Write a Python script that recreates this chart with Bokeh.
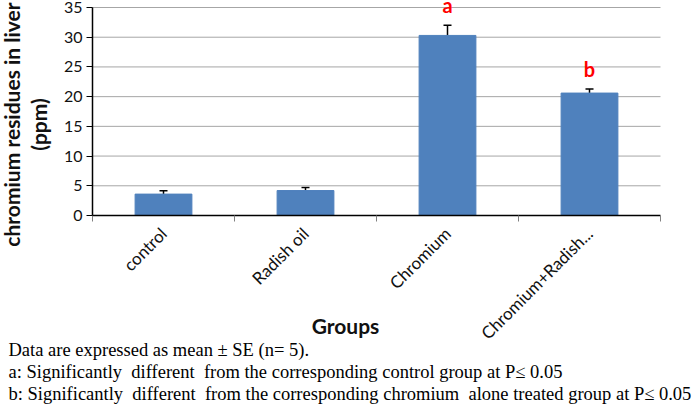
from math import pi
from bokeh.plotting import figure
from bokeh.models import (Range1d, FixedTicker, Whisker, TeeHead, Label, LabelSet,
                          ColumnDataSource)
from bokeh.core.properties import value
from bokeh.embed import file_html
from bokeh.resources import INLINE

# ---- data ----
groups = ["control", "Radish oil", "Chromium", "Chromium+Radish..."]
means = [3.6, 4.2, 30.3, 20.6]
se = [0.55, 0.5, 1.7, 0.7]
letters = ["", "", "a", "b"]
y_ticks = [0, 5, 10, 15, 20, 25, 30, 35]
y_title = ["chromium residues in liver", "(ppm)"]
x_title = "Groups"
notes = [
    "Data are expressed as mean \u00b1 SE (n= 5).",
    "a: Significantly\u00a0 different\u00a0 from the corresponding control group at P\u2264 0.05",
    "b: Significantly\u00a0 different\u00a0 from the corresponding chromium\u00a0 alone treated group at P\u2264 0.05",
]

W, H = 692, 420
n = len(groups)
xs = [i + 0.5 for i in range(n)]
src = ColumnDataSource(dict(
    x=xs, top=means, upper=[m + s for m, s in zip(means, se)],
    letter=letters))
grid_src = ColumnDataSource(dict(y=y_ticks[1:], x0=[0] * (len(y_ticks) - 1),
                                 x1=[n] * (len(y_ticks) - 1)))

# frame covers the whole canvas; axes are pinned at x=0 / y=0
px_per_cat = 142.0
px_per_unit = 208.0 / 35
ax_left, ax_zero = 92, 215
p = figure(width=W, height=H, output_backend="svg", toolbar_location=None,
           x_range=Range1d(-ax_left / px_per_cat, (W - ax_left) / px_per_cat),
           y_range=Range1d(-(H - ax_zero) / px_per_unit, ax_zero / px_per_unit),
           min_border=0)
p.outline_line_color = None
p.background_fill_color = "white"
p.border_fill_color = "white"
p.xgrid.visible = False
p.ygrid.visible = False

# gridlines
p.segment(x0="x0", x1="x1", y0="y", y1="y", source=grid_src,
          line_color="#A6A6A6", line_width=1)

# bars
p.vbar(x="x", top="top", width=0.4, source=src, fill_color="#4F81BD",
       line_color="#4F81BD")
p.add_layout(Whisker(source=src, base="x", lower="top", upper="upper",
                     line_color="black", line_width=1.5,
                     upper_head=TeeHead(size=8, line_color="black", line_width=1.5),
                     lower_head=None))
p.add_layout(LabelSet(source=src, x="x", y="upper", text="letter", y_offset=12,
                      text_align="center", text_baseline="alphabetic",
                      text_color="#FF0000", text_font=value("Lato"),
                      text_font_style="bold", text_font_size="20px"))

# y axis
ya = p.yaxis[0]
ya.fixed_location = 0
ya.bounds = (0, y_ticks[-1])
ya.ticker = FixedTicker(ticks=y_ticks)
ya.axis_line_color = "black"
ya.axis_line_width = 1.5
ya.major_tick_out = 6
ya.major_tick_in = 0
ya.minor_tick_out = 0
ya.minor_tick_in = 0
ya.major_tick_line_color = "black"
ya.major_label_standoff = 4
ya.major_label_text_font = "Lato"
ya.major_label_text_font_size = "16px"
ya.major_label_text_color = "#111111"

# x axis: labels at centers, ticks at boundaries (minor)
xa = p.xaxis[0]
xa.fixed_location = 0
xa.bounds = (0, n)
xa.ticker = FixedTicker(ticks=xs, minor_ticks=list(range(n + 1)))
xa.major_label_overrides = {x: g for x, g in zip(xs, groups)}
xa.major_label_orientation = pi / 4
xa.major_tick_out = 0
xa.major_tick_in = 0
xa.minor_tick_out = 6
xa.minor_tick_in = 0
xa.minor_tick_line_color = "#808080"
xa.axis_line_color = "black"
xa.axis_line_width = 1.5
xa.major_label_standoff = 9
xa.major_label_text_font = "Lato"
xa.major_label_text_font_size = "17px"
xa.major_label_text_color = "#111111"

# axis titles (screen units: origin at bottom-left of the canvas)
for xpos, t in zip([11, 38], y_title):
    p.add_layout(Label(x=xpos, y=H - 124, x_units="screen", y_units="screen", text=t,
                       angle=pi / 2, text_align="center", text_baseline="middle",
                       text_font="Lato", text_font_style="bold", text_font_size="21px",
                       text_color="#111111"))
p.add_layout(Label(x=345, y=H - 325, x_units="screen", y_units="screen", text=x_title,
                   text_align="center", text_baseline="middle",
                   text_font="Lato", text_font_style="bold", text_font_size="21px",
                   text_color="#111111"))

# footnotes
for i, t in enumerate(notes):
    p.add_layout(Label(x=8, y=H - 349 - 22 * i, x_units="screen", y_units="screen",
                       text=t, text_align="left", text_baseline="alphabetic",
                       text_font="Liberation Serif", text_font_size="18.5px",
                       text_color="black"))

open("out.html", "w").write(file_html(p, INLINE))
